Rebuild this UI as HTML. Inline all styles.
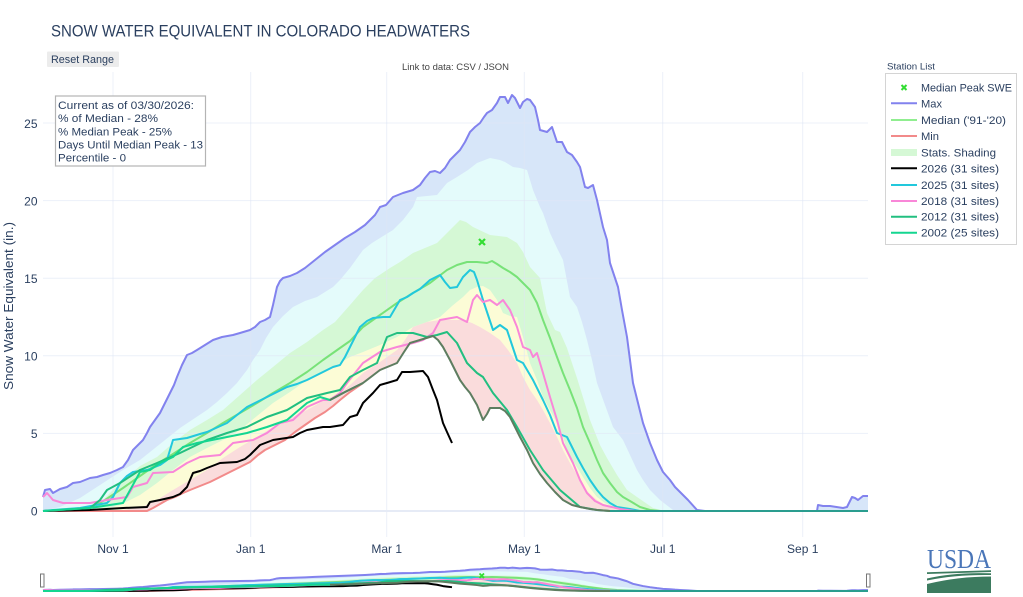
<!DOCTYPE html>
<html><head><meta charset="utf-8"><style>
html,body{margin:0;padding:0;background:#fff;}
svg{display:block;font-family:"Liberation Sans",Arial,sans-serif;}
</style></head><body>
<svg width="1023" height="597" viewBox="0 0 1023 597" xmlns="http://www.w3.org/2000/svg">
<defs>
<g id="fills">
<polygon fill="#d7e6f9" points="43,497 45,490 50,489 53,493 60,489 67,487 73,483 80,482 90,478 97,477 103,475 110,473 117,470 123,467 128,460 133,450 138,445 143,440 147,433 150,427 155,420 160,413 165,403 170,393 174,385 177,377 182,365 187,355 192,353 197,350 205,345 213,340 222,337 233,335 240,333 250,330 255,327 260,322 265,320 270,317 273,305 277,287 280,281 283,278 290,276 297,273 305,268 315,260 325,252 335,245 345,238 355,232 365,225 375,215 380,207 386,205 393,197 403,193 413,190 420,185 425,178 430,172 435,171 440,173 445,168 450,160 455,155 460,150 465,142 470,132 475,127 480,123 484,117 487,113 492,110 497,103 500,97 505,97 508,103 512,95 515,98 520,108 523,102 527,99 530,100 535,107 538,120 540,130 547,132 552,127 557,142 562,142 567,152 572,155 577,162 580,167 585,187 588,188 593,185 597,200 603,227 607,240 610,263 614,275 618,287 622,310 627,337 630,360 633,383 638,403 643,423 650,443 657,460 663,472 670,480 675,487 680,492 688,500 697,510 705,511 817,511 818,505 823,506 830,506 843,508 847,507 852,497 855,498 858,500 863,496 868,496 868,511 43,511"/>
<polygon fill="#e4fbfb" points="43,511 60,507 80,498 100,485 123,470 140,460 150,452 165,440 180,428 195,418 207,410 217,402 227,393 237,383 247,370 253,360 260,350 266,338 273,327 283,316 293,307 305,301 317,297 325,292 333,287 340,280 350,268 363,250 372,243 380,238 393,230 403,220 413,207 417,197 427,196 437,195 447,183 457,177 468,170 477,163 490,158 500,160 505,162 513,167 520,168 527,170 533,190 540,207 543,213 550,233 557,248 563,260 570,297 577,307 582,322 587,340 592,360 597,383 605,405 613,427 623,440 630,455 637,470 643,480 650,490 660,500 673,510 680,511 868,511 43,511"/>
<polygon fill="#d5f8d5" points="43,511 80,509 100,503 113,490 127,477 140,466 157,457 173,443 190,430 207,420 223,410 240,395 257,380 273,367 290,353 307,342 323,330 335,322 350,305 363,290 375,278 390,268 400,262 413,253 425,248 437,243 450,230 460,220 466,222 473,227 490,235 507,237 517,243 523,252 530,267 540,278 547,313 555,330 560,332 567,348 577,378 590,420 600,445 607,458 617,475 627,490 637,497 653,508 665,511 868,511 43,511"/>
<polygon fill="#fcfcd6" points="43,511 100,510 120,505 140,495 157,483 173,470 190,457 207,448 223,440 240,430 257,416 273,403 290,392 307,380 323,371 340,363 350,357 363,352 380,345 397,337 413,327 427,322 440,317 452,306 463,297 470,290 477,287 483,286 490,290 497,300 503,313 510,316 517,317 523,337 530,363 537,380 543,397 550,410 557,423 563,437 567,450 575,464 583,477 590,488 597,497 605,503 613,507 625,510 635,511 868,511 43,511"/>
<polygon fill="#fadcdc" points="43,511 120,510 140,508 157,500 173,490 190,480 207,470 223,458 240,447 257,437 273,427 290,418 307,410 323,401 340,393 350,385 363,373 380,362 397,350 405,340 413,327 427,322 440,320 452,320 463,320 472,323 480,327 490,333 500,340 508,350 517,363 523,377 530,390 537,400 543,410 550,423 557,437 563,450 570,463 577,475 583,487 590,494 597,500 605,505 613,509 625,511 868,511 43,511"/>
<polygon fill="#ffffff" points="43,511 147,511 153,508 160,504 167,500 175,497 183,493 190,490 200,486 210,482 220,477 230,472 240,467 250,462 258,455 265,450 275,445 285,440 295,432 305,425 315,418 325,412 333,406 340,400 350,392 363,383 372,377 380,370 390,366 397,363 404,352 410,343 420,340 433,336 438,340 443,347 450,360 460,380 465,387 470,393 477,405 483,420 487,414 490,408 500,408 505,411 510,417 515,427 520,437 527,450 533,463 540,474 547,483 555,492 563,500 572,505 580,507 590,509 597,510 610,511 868,511 43,511"/>
</g>
<g id="lines" fill="none" stroke-width="2" stroke-linejoin="round">
<polyline vector-effect="non-scaling-stroke" stroke="#8282ee" points="43,497 45,490 50,489 53,493 60,489 67,487 73,483 80,482 90,478 97,477 103,475 110,473 117,470 123,467 128,460 133,450 138,445 143,440 147,433 150,427 155,420 160,413 165,403 170,393 174,385 177,377 182,365 187,355 192,353 197,350 205,345 213,340 222,337 233,335 240,333 250,330 255,327 260,322 265,320 270,317 273,305 277,287 280,281 283,278 290,276 297,273 305,268 315,260 325,252 335,245 345,238 355,232 365,225 375,215 380,207 386,205 393,197 403,193 413,190 420,185 425,178 430,172 435,171 440,173 445,168 450,160 455,155 460,150 465,142 470,132 475,127 480,123 484,117 487,113 492,110 497,103 500,97 505,97 508,103 512,95 515,98 520,108 523,102 527,99 530,100 535,107 538,120 540,130 547,132 552,127 557,142 562,142 567,152 572,155 577,162 580,167 585,187 588,188 593,185 597,200 603,227 607,240 610,263 614,275 618,287 622,310 627,337 630,360 633,383 638,403 643,423 650,443 657,460 663,472 670,480 675,487 680,492 688,500 697,510 705,511 817,511 818,505 823,506 830,506 843,508 847,507 852,497 855,498 858,500 863,496 868,496"/>
<polyline vector-effect="non-scaling-stroke" stroke="#78e278" points="43,511 70,510 90,508 105,500 123,488 140,476 157,464 173,454 190,443 207,433 223,423 240,413 257,403 273,393 290,383 307,372 323,360 340,348 350,341 363,327 380,315 397,303 413,293 430,283 447,270 457,265 467,262 477,262 487,263 492,261 497,264 503,268 510,272 517,277 523,283 530,290 537,303 543,320 550,338 557,357 563,373 570,390 577,408 583,427 590,443 597,460 603,473 610,483 617,492 623,497 630,501 640,507 650,510 660,511 868,511"/>
<polyline vector-effect="non-scaling-stroke" stroke="#f28a8a" points="43,511 147,511 153,508 160,504 167,500 175,497 183,493 190,490 200,486 210,482 220,477 230,472 240,467 250,462 258,455 265,450 275,445 285,440 295,432 305,425 315,418 325,412 333,406 340,400 350,392 363,383"/>
<polyline vector-effect="non-scaling-stroke" stroke="#000000" points="43,511 90,510 123,508 147,507 150,502 160,500 173,497 180,494 187,487 193,473 200,471 207,468 220,463 237,462 245,459 250,455 255,450 260,445 273,440 293,437 300,433 307,430 323,427 330,427 343,425 350,417 357,415 363,403 373,393 380,385 387,383 397,380 402,372 410,372 423,371 428,377 433,390 437,400 443,423 447,432 452,443"/>
<polyline vector-effect="non-scaling-stroke" stroke="#22c8dc" points="43,511 53,510 80,508 107,503 113,497 120,483 127,476 133,472 147,470 160,465 167,460 170,450 173,440 187,438 200,434 207,432 227,423 237,415 247,407 257,402 267,397 277,392 287,387 297,384 307,380 317,375 327,370 333,367 340,365 345,357 350,347 355,337 360,327 367,321 373,318 383,317 390,317 400,300 407,297 413,293 420,289 430,280 440,275 445,282 450,288 457,287 463,277 470,270 474,272 477,280 480,290 483,300 488,315 493,330 500,325 507,330 512,345 517,360 523,363 533,380 543,400 550,415 557,433 567,437 572,447 577,457 583,468 590,480 597,490 603,497 610,503 617,507 630,509 640,511 868,511"/>
<polyline vector-effect="non-scaling-stroke" stroke="#f987d8" points="43,497 47,493 53,500 63,503 90,503 107,500 127,497 133,487 147,483 153,473 173,472 187,463 200,457 220,455 233,443 253,440 267,433 280,423 293,420 307,407 323,400 330,400 340,393 347,383 363,363 380,352 397,347 413,343 423,340 433,333 440,320 457,317 467,322 473,300 477,295 483,302 490,300 497,305 503,300 510,310 517,327 523,347 530,350 533,357 537,353 543,373 550,397 557,420 563,443 573,463 580,480 587,493 595,501 603,505 620,509 635,511 868,511"/>
<polyline vector-effect="non-scaling-stroke" stroke="#22bf80" points="43,511 90,508 100,500 107,490 120,483 140,470 157,463 180,453 207,440 227,433 247,427 267,417 287,410 307,398 327,393 340,390 350,377 363,370 377,363 387,337 397,333 413,333 427,337 437,335 447,332 457,343 467,363 477,373 483,377 493,393 507,410 517,427 530,450 543,470 560,490 580,507 597,510 610,511 868,511"/>
<polyline vector-effect="non-scaling-stroke" stroke="#14d690" points="43,511 90,508 123,503 140,472 150,470 160,463 173,457 183,447 197,443 227,437 247,433 267,427 287,420 307,403 320,397 330,400 345,392 363,383"/>
<polyline vector-effect="non-scaling-stroke" stroke="#5e7d60" points="330,400 345,392 363,383 380,370 397,363 404,352 410,343 420,340 433,336 438,340 443,347 450,360 460,380 465,387 470,393 477,405 483,420 487,414 490,408 500,408 505,411 510,417 515,427 520,437 527,450 533,463 540,474 547,483 555,492 563,500 572,505 580,507 590,509 597,510 610,511"/>
<polyline vector-effect="non-scaling-stroke" stroke="#2a9d8f" stroke-width="2" points="610,511 868,511"/>
</g>
</defs>

<!-- title -->
<text x="51" y="36.5" font-size="16.5" fill="#2a3f5f" textLength="419" lengthAdjust="spacingAndGlyphs">SNOW WATER EQUIVALENT IN COLORADO HEADWATERS</text>
<!-- reset button -->
<rect x="47" y="51.5" width="72" height="15.5" rx="1" fill="#ececec"/>
<text x="51" y="63" font-size="11" fill="#2a3f5f" textLength="63" lengthAdjust="spacingAndGlyphs">Reset Range</text>
<text x="402" y="70" font-size="9" fill="#444" textLength="107" lengthAdjust="spacingAndGlyphs">Link to data: CSV / JSON</text>

<!-- main plot -->
<use href="#fills"/>
<g stroke="#dfe6f5" stroke-opacity="0.6" stroke-width="1">
<line x1="43" y1="123" x2="868" y2="123"/>
<line x1="43" y1="200.6" x2="868" y2="200.6"/>
<line x1="43" y1="278.2" x2="868" y2="278.2"/>
<line x1="43" y1="355.8" x2="868" y2="355.8"/>
<line x1="43" y1="433.4" x2="868" y2="433.4"/>
<line x1="113" y1="72" x2="113" y2="537"/>
<line x1="250.7" y1="72" x2="250.7" y2="537"/>
<line x1="386.7" y1="72" x2="386.7" y2="537"/>
<line x1="524.3" y1="72" x2="524.3" y2="537"/>
<line x1="662.7" y1="72" x2="662.7" y2="537"/>
<line x1="802.7" y1="72" x2="802.7" y2="537"/>
</g>
<line x1="43" y1="511" x2="868" y2="511" stroke="#e6ebf6" stroke-width="2"/>
<use href="#lines"/>
<!-- median peak marker -->
<g stroke="#33dd33" stroke-width="2.2"><line x1="479" y1="239" x2="485" y2="245"/><line x1="485" y1="239" x2="479" y2="245"/></g>

<!-- y ticks -->
<g font-size="12" fill="#2a3f5f" text-anchor="end">
<text x="37.5" y="515.5">0</text>
<text x="37.5" y="438">5</text>
<text x="37.5" y="360.5">10</text>
<text x="37.5" y="283">15</text>
<text x="37.5" y="205.5">20</text>
<text x="37.5" y="128">25</text>
</g>
<text transform="translate(13,306) rotate(-90)" font-size="13" fill="#2a3f5f" text-anchor="middle" textLength="168" lengthAdjust="spacingAndGlyphs">Snow Water Equivalent (in.)</text>
<!-- x ticks -->
<g font-size="12" fill="#2a3f5f" text-anchor="middle">
<text x="113" y="553">Nov 1</text>
<text x="250.7" y="553">Jan 1</text>
<text x="386.7" y="553">Mar 1</text>
<text x="524.3" y="553">May 1</text>
<text x="662.7" y="553">Jul 1</text>
<text x="802.7" y="553">Sep 1</text>
</g>

<!-- info box -->
<rect x="55.5" y="96" width="150" height="70" fill="#fff" stroke="#b4b4b4" stroke-width="1.2"/>
<g font-size="11" fill="#2a3f5f">
<text x="58" y="109" textLength="136" lengthAdjust="spacingAndGlyphs">Current as of 03/30/2026:</text>
<text x="58" y="122" textLength="100" lengthAdjust="spacingAndGlyphs">% of Median - 28%</text>
<text x="58" y="135.5" textLength="114" lengthAdjust="spacingAndGlyphs">% Median Peak - 25%</text>
<text x="58" y="148.5" textLength="145" lengthAdjust="spacingAndGlyphs">Days Until Median Peak - 13</text>
<text x="58" y="161.5" textLength="68" lengthAdjust="spacingAndGlyphs">Percentile - 0</text>
</g>

<!-- legend -->
<text x="887" y="69.5" font-size="9.5" fill="#2a3f5f" textLength="48" lengthAdjust="spacingAndGlyphs">Station List</text>
<rect x="885.5" y="73.5" width="131" height="171" fill="#fff" stroke="#d4d4d4" stroke-width="1"/>
<g stroke="#33dd33" stroke-width="2"><line x1="901.5" y1="85" x2="906.5" y2="90"/><line x1="906.5" y1="85" x2="901.5" y2="90"/></g>
<g stroke-width="2">
<line x1="891" y1="103.3" x2="917" y2="103.3" stroke="#8282ee"/>
<line x1="891" y1="120" x2="917" y2="120" stroke="#90ee90"/>
<line x1="891" y1="136" x2="917" y2="136" stroke="#f28a8a"/>
<rect x="891" y="149" width="26" height="7" fill="#d5f8d5" stroke="none"/>
<line x1="891" y1="168.3" x2="917" y2="168.3" stroke="#000"/>
<line x1="891" y1="185" x2="917" y2="185" stroke="#22c8dc"/>
<line x1="891" y1="201" x2="917" y2="201" stroke="#f987d8"/>
<line x1="891" y1="216.7" x2="917" y2="216.7" stroke="#22bf80"/>
<line x1="891" y1="232.7" x2="917" y2="232.7" stroke="#14d690"/>
</g>
<g font-size="11" fill="#2a3f5f">
<text x="921" y="91.5" textLength="91" lengthAdjust="spacingAndGlyphs">Median Peak SWE</text>
<text x="921" y="107.3" textLength="21" lengthAdjust="spacingAndGlyphs">Max</text>
<text x="921" y="124" textLength="85" lengthAdjust="spacingAndGlyphs">Median ('91-'20)</text>
<text x="921" y="140" textLength="18" lengthAdjust="spacingAndGlyphs">Min</text>
<text x="921" y="156.3" textLength="75" lengthAdjust="spacingAndGlyphs">Stats. Shading</text>
<text x="921" y="172.3" textLength="78" lengthAdjust="spacingAndGlyphs">2026 (31 sites)</text>
<text x="921" y="189" textLength="78" lengthAdjust="spacingAndGlyphs">2025 (31 sites)</text>
<text x="921" y="205" textLength="78" lengthAdjust="spacingAndGlyphs">2018 (31 sites)</text>
<text x="921" y="220.7" textLength="78" lengthAdjust="spacingAndGlyphs">2012 (31 sites)</text>
<text x="921" y="236.7" textLength="78" lengthAdjust="spacingAndGlyphs">2002 (25 sites)</text>
</g>

<!-- range slider -->
<use href="#fills" transform="matrix(1,0,0,0.05606,0,562.36)"/>
<use href="#lines" transform="matrix(1,0,0,0.05606,0,562.36)"/>
<g stroke="#33dd33" stroke-width="1.8"><line x1="479.5" y1="573.5" x2="484" y2="578"/><line x1="484" y1="573.5" x2="479.5" y2="578"/></g>
<rect x="40.5" y="574" width="3.5" height="13" fill="#fff" stroke="#777" stroke-width="1"/>
<rect x="866.5" y="574" width="3.5" height="13" fill="#fff" stroke="#777" stroke-width="1"/>

<!-- USDA logo -->
<text x="927" y="568" font-family="Liberation Serif, serif" font-size="27" fill="#4a76b8" textLength="64" lengthAdjust="spacingAndGlyphs">USDA</text>
<polygon fill="#3c7b5f" points="927,572.3 991,570.3 991,572 927,574"/>
<path fill="#3c7b5f" d="M927,578.5 Q955,572 991,573.3 L991,575 Q955,574.5 927,580.5 Z"/>
<path fill="#3c7b5f" d="M927,584 Q958,576.5 991,576.5 L991,593 L927,593 Z"/>
</svg>
</body></html>
